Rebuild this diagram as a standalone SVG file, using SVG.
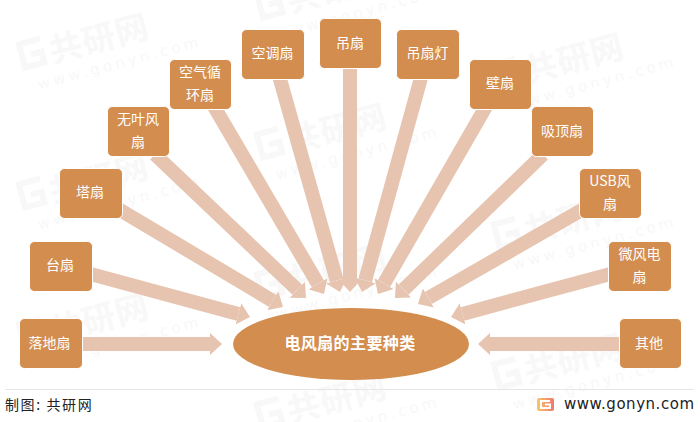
<svg xmlns="http://www.w3.org/2000/svg" width="700" height="422" viewBox="0 0 700 422">
<style>
.box{fill:#d38d4f;stroke:#fff;stroke-width:1}
.t{font-family:"Noto Sans CJK SC","Noto Sans",sans-serif;font-size:14px;fill:#fff;text-anchor:middle}
.c{stroke:#e6c4b0;stroke-width:14;fill:none;marker-end:url(#head)}
.wm1{font-family:"Noto Sans CJK SC",sans-serif;font-size:33px;font-weight:700;fill:#f8f8f8;letter-spacing:1px}
.wm2{font-family:"DejaVu Sans",sans-serif;font-size:15px;fill:#f8f8f8;letter-spacing:3.5px}
.wmg{fill:none;stroke:#f8f8f8;stroke-width:6}
</style>
<defs>
<marker id="head" markerUnits="userSpaceOnUse" markerWidth="12" markerHeight="22" refX="0" refY="11" orient="auto"><path d="M0,0L12,11L0,22z" fill="#e6c4b0"/></marker>
<linearGradient id="lg" x1="0" y1="0" x2="1" y2="0"><stop offset="0" stop-color="#f9c56a"/><stop offset="1" stop-color="#ee7a6a"/></linearGradient>
<g id="wm"><path class="wmg" d="M28,-27H6V-3H26V-14H15"/><text class="wm1" x="34" y="0">共研网</text><text class="wm2" x="14" y="22">www.gonyn.com</text></g>
</defs>
<g id="watermarks">
<use href="#wm" transform="translate(20,72) rotate(-15)"/>
<use href="#wm" transform="translate(258,162) rotate(-15)"/>
<use href="#wm" transform="translate(258,22) rotate(-15)"/>
<use href="#wm" transform="translate(495,92) rotate(-15)"/>
<use href="#wm" transform="translate(495,252) rotate(-15)"/>
<use href="#wm" transform="translate(20,212) rotate(-15)"/>
<use href="#wm" transform="translate(20,352) rotate(-15)"/>
<use href="#wm" transform="translate(258,302) rotate(-15)"/>
<use href="#wm" transform="translate(495,392) rotate(-15)"/>
<use href="#wm" transform="translate(258,432) rotate(-15)"/>
</g>
<g id="connectors">
<line class="c" x1="75" y1="344" x2="210" y2="344"/>
<line class="c" x1="85" y1="272.4" x2="238.4" y2="313.9"/>
<line class="c" x1="115" y1="207" x2="272.7" y2="300.9"/>
<line class="c" x1="155" y1="154.5" x2="297.3" y2="289.7"/>
<line class="c" x1="212" y1="103" x2="317.9" y2="283.7"/>
<line class="c" x1="278" y1="72" x2="336.7" y2="280.5"/>
<line class="c" x1="350" y1="60" x2="350" y2="280"/>
<line class="c" x1="422.6" y1="72" x2="365.2" y2="280.4"/>
<line class="c" x1="488" y1="103" x2="384" y2="283.6"/>
<line class="c" x1="543" y1="154.5" x2="403.6" y2="289.6"/>
<line class="c" x1="587" y1="207" x2="428.4" y2="298"/>
<line class="c" x1="616" y1="272.4" x2="462.6" y2="313.9"/>
<line class="c" x1="627" y1="344" x2="490" y2="344"/>
</g>
<g id="n1"><rect class="box" x="19.500" y="318.500" width="63" height="50" rx="5"/><text class="t" x="49.500" y="348">落地扇</text></g>
<g id="n2"><rect class="box" x="29.500" y="241.500" width="63" height="50" rx="5"/><text class="t" x="60" y="270">台扇</text></g>
<g id="n3"><rect class="box" x="59.500" y="168.500" width="63" height="50" rx="5"/><text class="t" x="90" y="197">塔扇</text></g>
<g id="n4"><rect class="box" x="107.500" y="106.500" width="62" height="50" rx="5"/><text class="t" x="138" y="124">无叶风</text><text class="t" x="138" y="147">扇</text></g>
<g id="n5"><rect class="box" x="169.500" y="59.500" width="62" height="50" rx="5"/><text class="t" x="200" y="77">空气循</text><text class="t" x="200" y="100">环扇</text></g>
<g id="n6"><rect class="box" x="241.500" y="29.500" width="63" height="50" rx="5"/><text class="t" x="272.500" y="58">空调扇</text></g>
<g id="n7"><rect class="box" x="319.500" y="18.500" width="62" height="50" rx="5"/><text class="t" x="350" y="48">吊扇</text></g>
<g id="n8"><rect class="box" x="396.500" y="29.500" width="63" height="50" rx="5"/><text class="t" x="427.500" y="58">吊扇灯</text></g>
<g id="n9"><rect class="box" x="469.500" y="59.500" width="62" height="50" rx="5"/><text class="t" x="500" y="88">壁扇</text></g>
<g id="n10"><rect class="box" x="531.500" y="106.500" width="62" height="50" rx="5"/><text class="t" x="562" y="136">吸顶扇</text></g>
<g id="n11"><rect class="box" x="579.500" y="168.500" width="62" height="50" rx="5"/><text class="t" x="610" y="186">USB风</text><text class="t" x="610" y="209">扇</text></g>
<g id="n12"><rect class="box" x="608.500" y="241.500" width="63" height="50" rx="5"/><text class="t" x="639.500" y="259">微风电</text><text class="t" x="639.500" y="282">扇</text></g>
<g id="n13"><rect class="box" x="619.500" y="318.500" width="62" height="50" rx="5"/><text class="t" x="649" y="348">其他</text></g>
<g id="center"><ellipse cx="351" cy="344" rx="118" ry="36" fill="#d38d4f"/><text x="350" y="349" font-family="Noto Sans CJK SC,sans-serif" font-size="16px" font-weight="700" fill="#fff" text-anchor="middle" letter-spacing=".4">电风扇的主要种类</text></g>
<g id="footer">
<line x1="5" y1="389.500" x2="694" y2="389.500" stroke="#e6e6e6"/>
<text x="5" y="410" font-family="Noto Sans CJK SC,sans-serif" font-size="14px" fill="#222" letter-spacing="1.6">制图: 共研网</text>
<rect x="537" y="398" width="17" height="13" rx="2" fill="url(#lg)"/>
<path d="M550,401H541V408H550V404.500H545" fill="none" stroke="#fff" stroke-width="2"/>
<text x="564" y="409" font-family="DejaVu Sans,sans-serif" font-size="15px" fill="#222" textLength="130" lengthAdjust="spacing">www.gonyn.com</text>
</g>
</svg>
